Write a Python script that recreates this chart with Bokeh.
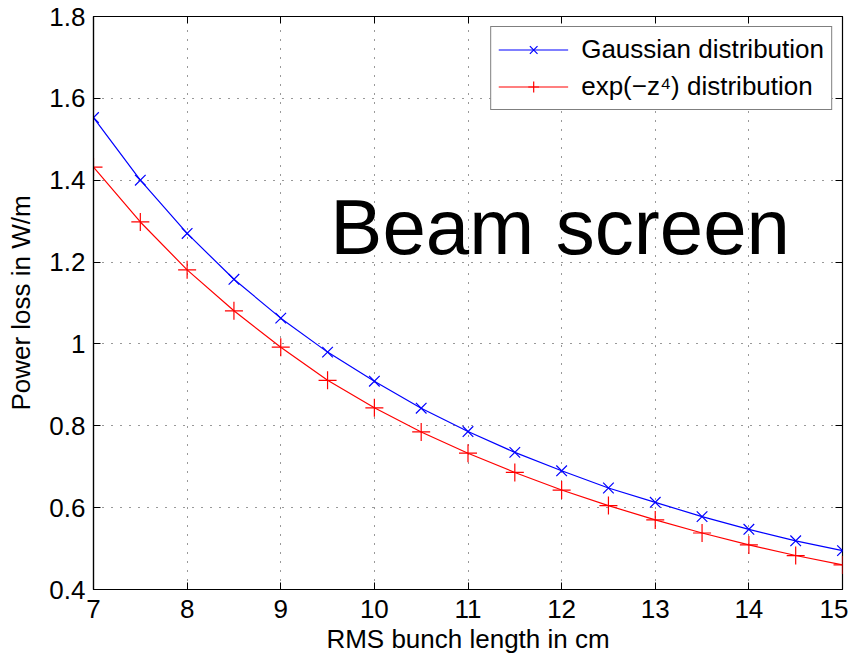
from bokeh.plotting import figure
from bokeh.models import LinearAxis, FixedTicker, Label, Range1d
from bokeh.embed import file_html
from bokeh.resources import INLINE

# Data
bunch_length_cm = [7, 7.5, 8, 8.5, 9, 9.5, 10, 10.5, 11, 11.5, 12, 12.5, 13, 13.5, 14, 14.5, 15]
gaussian_loss = [1.553, 1.400, 1.270, 1.158, 1.063, 0.980, 0.909, 0.843, 0.786, 0.735,
                 0.690, 0.648, 0.613, 0.578, 0.547, 0.519, 0.495]
expz4_loss = [1.432, 1.298, 1.181, 1.081, 0.992, 0.911, 0.844, 0.785, 0.733, 0.686,
              0.643, 0.605, 0.570, 0.538, 0.509, 0.483, 0.460]
x_ticks = [7, 8, 9, 10, 11, 12, 13, 14, 15]
x_tick_labels = ["7", "8", "9", "10", "11", "12", "13", "14", "15"]
y_ticks = [0.4, 0.6, 0.8, 1.0, 1.2, 1.4, 1.6, 1.8]
y_tick_labels = ["0.4", "0.6", "0.8", "1", "1.2", "1.4", "1.6", "1.8"]

FONT = "Liberation Sans"
TICK_FS = "26px"

p = figure(width=848, height=657, output_backend="svg", toolbar_location=None,
           x_range=Range1d(7, 15), y_range=Range1d(0.4, 1.8),
           min_border_left=93, min_border_right=6, min_border_top=16, min_border_bottom=68)
p.background_fill_color = "white"
p.border_fill_color = "white"
p.outline_line_color = "black"
p.outline_line_width = 1.2

xt = FixedTicker(ticks=x_ticks)
yt = FixedTicker(ticks=y_ticks)

for ax in [p.xaxis[0], p.yaxis[0]]:
    ax.major_tick_in = 7
    ax.major_tick_out = 0
    ax.minor_tick_in = 0
    ax.minor_tick_out = 0
    ax.axis_line_color = "black"
    ax.axis_line_width = 1.2
    ax.major_tick_line_color = "black"
    ax.major_label_text_font = FONT
    ax.major_label_text_font_size = TICK_FS
    ax.major_label_text_color = "black"
    ax.axis_label_text_font = FONT
    ax.axis_label_text_font_size = "26px"
    ax.axis_label_text_font_style = "normal"
    ax.axis_label_text_color = "black"

p.xaxis[0].ticker = xt
p.yaxis[0].ticker = yt
p.xaxis[0].major_label_overrides = {t: l for t, l in zip(x_ticks, x_tick_labels)}
p.yaxis[0].major_label_overrides = {t: l for t, l in zip(y_ticks, y_tick_labels)}
p.xaxis[0].axis_label = "RMS bunch length in cm"
p.yaxis[0].axis_label = "Power loss in W/m"
p.xaxis[0].major_label_standoff = 10
p.yaxis[0].major_label_standoff = 8
p.xaxis[0].axis_label_standoff = 3
p.yaxis[0].axis_label_standoff = 10

for loc, tick in [("above", xt), ("right", yt)]:
    ax = LinearAxis(ticker=tick)
    ax.major_tick_in = 7
    ax.major_tick_out = 0
    ax.minor_tick_in = 0
    ax.minor_tick_out = 0
    ax.axis_line_color = None
    ax.major_tick_line_color = "black"
    ax.major_label_text_font_size = "1px"
    ax.major_label_text_alpha = 0
    ax.major_label_standoff = 0
    p.add_layout(ax, loc)

p.xgrid.ticker = xt
p.ygrid.ticker = yt
for g in [p.xgrid[0], p.ygrid[0]]:
    g.grid_line_color = "black"
    g.grid_line_dash = "1 8"
    g.grid_line_width = 1
    g.grid_line_alpha = 0.8

p.line(bunch_length_cm, gaussian_loss, line_color="blue", line_width=1.2,
       legend_label="Gaussian distribution")
p.scatter(bunch_length_cm, gaussian_loss, marker="x", size=15, line_color="blue",
          line_width=1.2, legend_label="Gaussian distribution")
p.line(bunch_length_cm, expz4_loss, line_color="red", line_width=1.2,
       legend_label="exp(\u2212z\u2074) distribution")
p.scatter(bunch_length_cm, expz4_loss, marker="cross", size=18, line_color="red",
          line_width=1.2, legend_label="exp(\u2212z\u2074) distribution")

p.add_layout(Label(x=9.53, y=1.285, text="Beam screen", text_font=FONT,
                   text_font_size="78px", text_color="black",
                   text_baseline="alphabetic", text_align="left"))

lg = p.legend[0]
lg.location = "top_right"
lg.margin = 10
lg.padding = 7
lg.spacing = 6
lg.glyph_width = 70
lg.glyph_height = 27
lg.label_height = 27
lg.label_standoff = 13
lg.label_text_font = FONT
lg.label_text_font_size = "26px"
lg.label_text_color = "black"
lg.border_line_color = "black"
lg.border_line_width = 1.2
lg.background_fill_color = "white"
lg.background_fill_alpha = 1

open("out.html", "w").write(file_html(p, INLINE))
